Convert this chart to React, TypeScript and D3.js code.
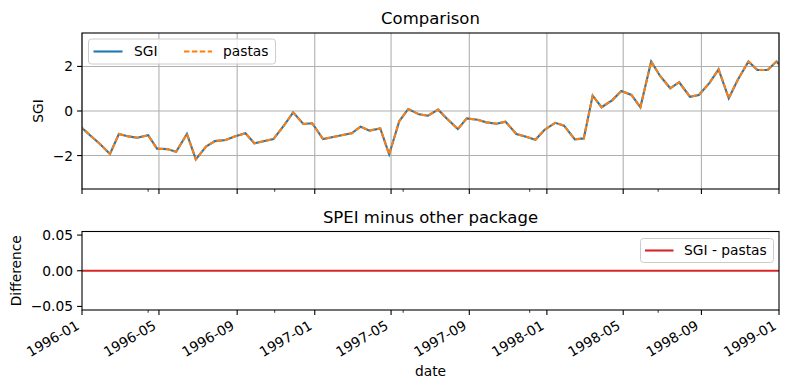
import React from 'react';
import * as d3 from 'd3';

// sample dates (14th / 28th of each month) and SGI values
const dates = [
  '1995-12-28',
  '1996-01-14', '1996-01-28', '1996-02-14', '1996-02-28', '1996-03-14', '1996-03-28',
  '1996-04-14', '1996-04-28', '1996-05-14', '1996-05-28', '1996-06-14', '1996-06-28',
  '1996-07-14', '1996-07-28', '1996-08-14', '1996-08-28', '1996-09-14', '1996-09-28',
  '1996-10-14', '1996-10-28', '1996-11-14', '1996-11-28', '1996-12-14', '1996-12-28',
  '1997-01-14', '1997-01-28', '1997-02-14', '1997-02-28', '1997-03-14', '1997-03-28',
  '1997-04-14', '1997-04-28', '1997-05-14', '1997-05-28', '1997-06-14', '1997-06-28',
  '1997-07-14', '1997-07-28', '1997-08-14', '1997-08-28', '1997-09-14', '1997-09-28',
  '1997-10-14', '1997-10-28', '1997-11-14', '1997-11-28', '1997-12-14', '1997-12-28',
  '1998-01-14', '1998-01-28', '1998-02-14', '1998-02-28', '1998-03-14', '1998-03-28',
  '1998-04-14', '1998-04-28', '1998-05-14', '1998-05-28', '1998-06-14', '1998-06-28',
  '1998-07-14', '1998-07-28', '1998-08-14', '1998-08-28', '1998-09-14', '1998-09-28',
  '1998-10-14', '1998-10-28', '1998-11-14', '1998-11-28', '1998-12-14', '1998-12-28',
  '1999-01-14',
];

const sgi = [
  -0.65,
  -1.10, -1.45, -1.93, -1.03, -1.14, -1.20,
  -1.09, -1.69, -1.71, -1.83, -1.03, -2.17,
  -1.60, -1.35, -1.30, -1.14, -1.00, -1.45,
  -1.35, -1.26, -0.63, -0.06, -0.58, -0.55,
  -1.26, -1.18, -1.08, -1.00, -0.70, -0.88,
  -0.78, -1.95, -0.45, 0.09, -0.15, -0.21,
  0.06, -0.35, -0.81, -0.33, -0.39, -0.51,
  -0.57, -0.48, -1.03, -1.14, -1.29, -0.85,
  -0.53, -0.66, -1.27, -1.23, 0.69, 0.17,
  0.49, 0.90, 0.72, 0.17, 2.22, 1.57,
  1.02, 1.29, 0.64, 0.72, 1.27, 1.87,
  0.57, 1.39, 2.22, 1.84, 1.84, 2.22,
  1.70,
];

// the pastas result lies exactly on top of SGI in the picture
const pastas = sgi.slice();

const majorTicks = [
  '1996-01-01', '1996-05-01', '1996-09-01', '1997-01-01', '1997-05-01',
  '1997-09-01', '1998-01-01', '1998-05-01', '1998-09-01', '1999-01-01',
];
const minorTicks = ['1996-04-14', '1996-10-30', '1997-05-20', '1997-12-05', '1998-06-25'];
const topYTicks = [-2, 0, 2];
const bottomYTicks = [-0.05, 0, 0.05];

const W = 789;
const H = 390;
const FONT = 'DejaVu Sans, sans-serif';
const FS = 13.8;

const parse = d3.utcParse('%Y-%m-%d');
const fmt = d3.utcFormat('%Y-%m');
const minus = (s: string) => s.replace('-', '\u2212');

const App: React.FC = () => {
  const left = 82;
  const right = 779;
  const top1 = 33, bot1 = 189;
  const top2 = 231.5, bot2 = 310;

  const x = d3.scaleUtc()
    .domain([parse('1996-01-01')!, parse('1999-01-01')!])
    .range([left, right]);
  const y1 = d3.scaleLinear().domain([-3.5, 3.5]).range([bot1, top1]);
  const y2 = d3.scaleLinear().domain([-0.055, 0.055]).range([bot2, top2]);

  const pts = dates.map((d, i) => ({ t: parse(d)!, sgi: sgi[i], pastas: pastas[i], diff: sgi[i] - pastas[i] }));

  const lineSgi = d3.line<typeof pts[0]>().x(d => x(d.t)).y(d => y1(d.sgi));
  const linePastas = d3.line<typeof pts[0]>().x(d => x(d.t)).y(d => y1(d.pastas));
  const lineDiff = d3.line<typeof pts[0]>().x(d => x(d.t)).y(d => y2(d.diff));

  const majors = majorTicks.map(s => parse(s)!);
  const minors = minorTicks.map(s => parse(s)!);

  const xTicks = (bottom: number, labels: boolean) => (
    <g>
      {majors.map((t, i) => (
        <g key={'M' + i}>
          <line x1={x(t)} x2={x(t)} y1={bottom} y2={bottom + 4.9} stroke="#000" strokeWidth={1.1} />
          {labels && (
            <text
              transform={`translate(${x(t) - 8},${bottom + 7.5}) rotate(-30)`}
              textAnchor="end"
              y={12.5}
              fontSize={FS}
              fontFamily={FONT}
            >
              {fmt(t)}
            </text>
          )}
        </g>
      ))}
      {minors.map((t, i) => (
        <line key={'m' + i} x1={x(t)} x2={x(t)} y1={bottom} y2={bottom + 2.8} stroke="#000" strokeWidth={0.8} />
      ))}
    </g>
  );

  return (
    <svg width={W} height={H} style={{ position: 'absolute', left: 0, top: 0, background: '#fff' }}>
      <defs>
        <clipPath id="clip1"><rect x={left} y={top1} width={right - left} height={bot1 - top1} /></clipPath>
        <clipPath id="clip2"><rect x={left} y={top2} width={right - left} height={bot2 - top2} /></clipPath>
      </defs>

      {/* top panel */}
      <text x={(left + right) / 2} y={23.5} textAnchor="middle" fontSize={16.5} fontFamily={FONT}>Comparison</text>
      <g>
        {majors.map((t, i) => (
          <line key={i} x1={x(t)} x2={x(t)} y1={top1} y2={bot1} stroke="#b0b0b0" strokeWidth={1.1} />
        ))}
        {topYTicks.map(v => (
          <line key={v} x1={left} x2={right} y1={y1(v)} y2={y1(v)} stroke="#b0b0b0" strokeWidth={1.1} />
        ))}
      </g>
      <g clipPath="url(#clip1)">
        <path d={lineSgi(pts)!} fill="none" stroke="#1f77b4" strokeWidth={2.1} />
        <path d={linePastas(pts)!} fill="none" stroke="#ff7f0e" strokeWidth={2.1} strokeDasharray="5.5,2.4" />
      </g>
      <rect x={left} y={top1} width={right - left} height={bot1 - top1} fill="none" stroke="#000" strokeWidth={1.1} />
      {topYTicks.map(v => (
        <g key={v}>
          <line x1={left - 4.9} x2={left} y1={y1(v)} y2={y1(v)} stroke="#000" strokeWidth={1.1} />
          <text x={left - 9} y={y1(v)} dy="0.36em" textAnchor="end" fontSize={FS} fontFamily={FONT}>
            {minus(d3.format('d')(v))}
          </text>
        </g>
      ))}
      {xTicks(bot1, false)}
      <text transform={`translate(43,${(top1 + bot1) / 2}) rotate(-90)`} textAnchor="middle" fontSize={FS} fontFamily={FONT}>SGI</text>

      {/* top legend */}
      <g>
        <rect x={88.5} y={39} width={187} height={25} rx={3} fill="#fff" fillOpacity={0.8} stroke="#cccccc" strokeWidth={1} />
        <line x1={93.5} x2={122.5} y1={51.5} y2={51.5} stroke="#1f77b4" strokeWidth={2.1} />
        <text x={134} y={51.5} dy="0.36em" fontSize={FS} fontFamily={FONT}>SGI</text>
        <line x1={184} x2={212} y1={51.5} y2={51.5} stroke="#ff7f0e" strokeWidth={2.1} strokeDasharray="5.5,2.4" />
        <text x={223} y={51.5} dy="0.36em" fontSize={FS} fontFamily={FONT}>pastas</text>
      </g>

      {/* bottom panel */}
      <text x={(left + right) / 2} y={222.5} textAnchor="middle" fontSize={16.5} fontFamily={FONT}>SPEI minus other package</text>
      <g clipPath="url(#clip2)">
        <path d={lineDiff(pts)!} fill="none" stroke="#d62728" strokeWidth={2.1} />
      </g>
      <rect x={left} y={top2} width={right - left} height={bot2 - top2} fill="none" stroke="#000" strokeWidth={1.1} />
      {bottomYTicks.map(v => (
        <g key={v}>
          <line x1={left - 4.9} x2={left} y1={y2(v)} y2={y2(v)} stroke="#000" strokeWidth={1.1} />
          <text x={left - 9} y={y2(v)} dy="0.36em" textAnchor="end" fontSize={FS} fontFamily={FONT}>
            {minus(d3.format('.2f')(v))}
          </text>
        </g>
      ))}
      {xTicks(bot2, true)}
      <text transform={`translate(21,${(top2 + bot2) / 2}) rotate(-90)`} textAnchor="middle" fontSize={FS} fontFamily={FONT}>Difference</text>
      <text x={(left + right) / 2} y={376} textAnchor="middle" fontSize={FS} fontFamily={FONT}>date</text>

      {/* bottom legend */}
      <g>
        <rect x={640.5} y={238.5} width={133} height={24} rx={3} fill="#fff" fillOpacity={0.8} stroke="#cccccc" strokeWidth={1} />
        <line x1={645} x2={673.5} y1={250.5} y2={250.5} stroke="#d62728" strokeWidth={2.1} />
        <text x={684} y={250.5} dy="0.36em" fontSize={FS} fontFamily={FONT}>SGI - pastas</text>
      </g>
    </svg>
  );
};

export default App;
